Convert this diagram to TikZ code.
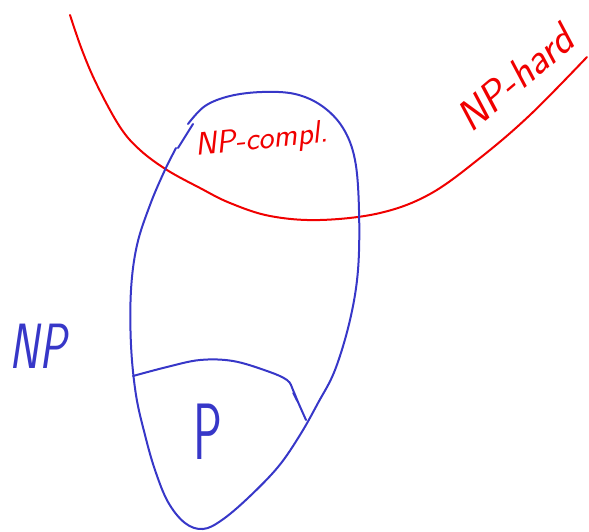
\documentclass[tikz,border=0pt]{standalone}
\usepackage{tikz}
\definecolor{penred}{RGB}{240,0,0}
\definecolor{penblue}{RGB}{55,55,200}

\begin{document}
\begin{tikzpicture}[x=1pt,y=-1pt,
  redpen/.style={draw=penred,line width=2pt,line cap=round},
  bluepen/.style={draw=penblue,line width=2pt,line cap=round},
  hand/.style={font=\sffamily\itshape}]
        \useasboundingbox (0,0) rectangle (589,531);

        % Frontera NP-hard
        \draw[redpen] plot[smooth,tension=0.6] coordinates {(70,15) (82,50) (97,85) (120,127) (140,150) (167,170) (200,188) (230,203) (270,216) (320,220) (380,213) (430,194) (480,158) (530,115) (587,57)};

        % Conjunt NP
        \draw[bluepen] plot[smooth,tension=0.6] coordinates {(188,124) (205,106) (230,96) (262,92) (295,94) (322,106) (343,128) (355,160) (359,210) (358,270) (350,320) (335,370) (318,403) (300,435) (278,467) (248,498) (222,520) (203,529) (185,523) (168,502) (155,470) (145,435) (136,395) (131,345) (131,290) (137,245) (150,205) (164,172) (176,148)};
        \draw[bluepen] (178,148) -- (193,124);

        % Conjunt P
        \draw[bluepen] plot[smooth,tension=0.6] coordinates {(133,376) (167,367) (200,360) (233,361) (267,371) (287,380) (293,390) (298,402) (306,420)};
        \draw[bluepen,line width=1.4pt] (293,393) -- (297,401);

        % Etiquetes
        \node[hand,text=penred,rotate=6,font=\fontsize{32}{32}\sffamily\itshape] (npc) at (262,141) {NP-compl.};
        \node[hand,text=penred,rotate=40,font=\fontsize{42}{42}\sffamily\itshape] (nph) at (515,78) {NP-hard};
        \node[hand,text=penblue,xscale=0.7,font=\fontsize{64}{64}\sffamily\itshape] (np) at (38,346) {NP};
        \node[hand,text=penblue,xscale=0.6,font=\fontsize{80}{80}\sffamily] (p) at (208,432) {P};
    \end{tikzpicture}
\end{document}
